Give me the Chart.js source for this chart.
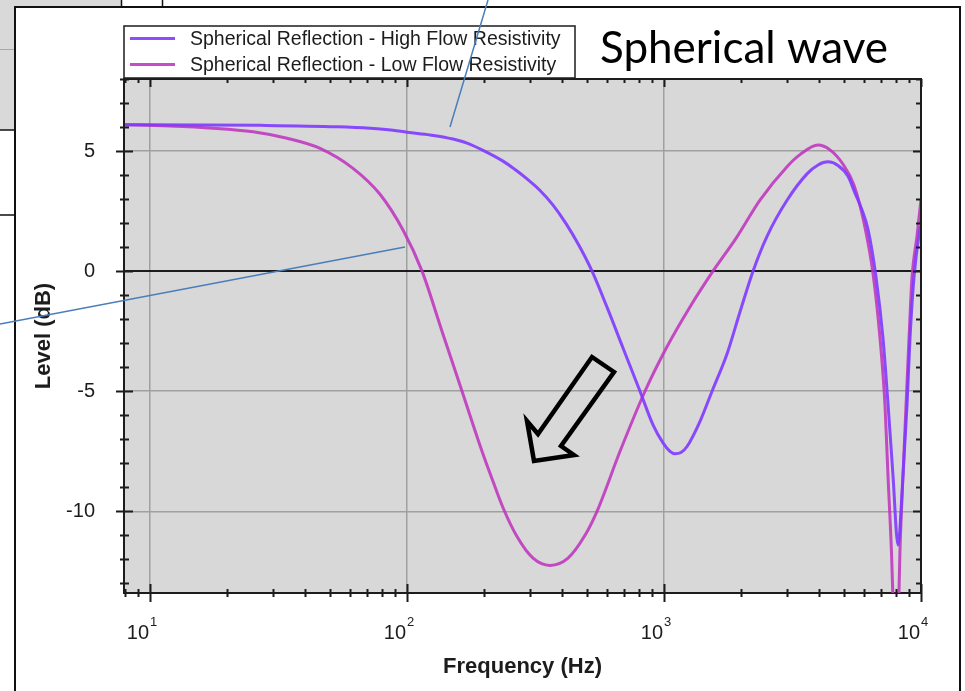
<!DOCTYPE html>
<html>
<head>
<meta charset="utf-8">
<script src="https://cdn.jsdelivr.net/npm/chart.js@4.4.1/dist/chart.umd.min.js"></script>
<style>
  html, body { margin: 0; padding: 0; background: #fff; overflow: hidden; }
  canvas { display: block; }
</style>
</head>
<body>
<canvas id="c" width="965" height="691"></canvas>
<script>
// Reflection level of a spherical wave over ground, two flow resistivities
const freqHigh = [8, 15.65, 26.8, 53.4, 71.8, 88.2, 100, 122.9, 151, 171.2, 197.6, 236.4, 263.2, 293.1, 329.3,
  370, 415.7, 467, 524.8, 600.1, 692.6, 806.5, 906.2, 991.1, 1055, 1103, 1164, 1229, 1381, 1538, 1758, 1975,
  2220, 2517, 3011, 3601, 3975, 4347, 4753, 5200, 5536, 5894, 6221, 6684, 7115, 7438, 7780, 8138, 8511, 8820,
  9061, 9393, 9822, 10000];
const levelHigh = [6.1, 6.09, 6.07, 6.01, 5.95, 5.87, 5.78, 5.67, 5.5, 5.33, 5.03, 4.58, 4.23, 3.84, 3.36,
  2.75, 1.98, 1.07, 0, -1.5, -3.2, -5.0, -6.4, -7.15, -7.5, -7.6, -7.55, -7.3, -6.25, -5.0, -3.45, -1.7,
  0, 1.45, 2.95, 4.05, 4.42, 4.55, 4.4, 3.95, 3.25, 2.55, 1.74, -0.25, -2.8, -5.5, -8.5, -11.4, -8.5, -5.6,
  -2.8, -0.25, 1.5, 1.9];

const freqLow = [8, 11.23, 17.59, 25.17, 34.14, 45.86, 61.64, 78.51, 96.47, 114.4, 136.8, 163.7, 195.8, 216,
  236.4, 267.9, 309.3, 360.1, 423.2, 492.7, 548.6, 674.4, 843.4, 1027, 1262, 1551, 1923, 2363, 3011, 3382,
  3975, 4424, 4973, 5487, 6001, 6506, 6927, 7244, 7438, 7676, 7852, 7993, 8138, 8285, 8511, 8744, 8982,
  9226, 9647, 10000];
const levelLow = [6.1, 6.05, 5.95, 5.8, 5.53, 5.11, 4.28, 3.2, 1.71, 0, -2.5, -5, -7.5, -8.75,
  -9.85, -11.05, -11.95, -12.25, -11.95, -11, -10, -7.5, -5, -3.15, -1.49, 0, 1.43, 2.96, 4.35, 4.85,
  5.25, 5.05, 4.45, 3.58, 2.02, -0.1, -2.8, -5.6, -8.5, -11.7, -15, -17, -15, -11.6, -8.5, -5.6, -2.8,
  -0.25, 1.46, 3.0];

const seriesNames = ['Spherical Reflection - High Flow Resistivity', 'Spherical Reflection - Low Flow Resistivity'];
const seriesColors = ['rgba(126, 58, 255, 0.9)', 'rgba(190, 52, 190, 0.88)'];

const xTickValues = [10, 100, 1000, 10000];
const xTickExponents = ['1', '2', '3', '4'];
const yTickValues = [-10, -5, 0, 5];
const chartTitle = 'Spherical wave';

const X_MIN = 7.92, X_MAX = 10000, Y_MIN = -13.4, Y_MAX = 8;
const FONT = '"Liberation Sans", Arial, sans-serif';
const INK = '#1c1c1c';

// minor tick positions: 2..9 within each decade
const xMinorTicks = [];
[1, 10, 100, 1000].forEach(d => { for (let m = 2; m <= 9; m++) { const v = m * d; if (v >= X_MIN && v < X_MAX) xMinorTicks.push(v); } });
const yMinorTicks = [];
for (let v = Math.ceil(Y_MIN); v <= Y_MAX; v++) { if (yTickValues.indexOf(v) < 0) yMinorTicks.push(v); }

const toPoints = (xs, ys) => xs.map((x, i) => ({ x: x, y: ys[i] }));

// slide frame, left-hand panel fragments, plot background
const backdrop = {
  id: 'backdrop',
  beforeDraw(chart) {
    const ctx = chart.ctx;
    const a = chart.chartArea;
    ctx.save();
    ctx.fillStyle = '#fff';
    ctx.fillRect(0, 0, chart.width, chart.height);
    ctx.fillStyle = '#d9d9d9';
    ctx.fillRect(0, 0, 121, 7);
    ctx.fillRect(0, 0, 15, 130);
    ctx.strokeStyle = '#a8a8a8'; ctx.lineWidth = 1;
    ctx.beginPath(); ctx.moveTo(0, 49.5); ctx.lineTo(15, 49.5); ctx.stroke();
    ctx.strokeStyle = '#111'; ctx.lineWidth = 1.5;
    ctx.beginPath();
    ctx.moveTo(0, 130); ctx.lineTo(15, 130);
    ctx.moveTo(0, 215); ctx.lineTo(15, 215);
    ctx.moveTo(121.5, 0); ctx.lineTo(121.5, 7);
    ctx.moveTo(162.5, 0); ctx.lineTo(162.5, 7);
    ctx.stroke();
    ctx.lineWidth = 2;
    ctx.strokeRect(15, 7, 945, 700);
    ctx.fillStyle = '#d8d8d8';
    ctx.fillRect(a.left, a.top, a.right - a.left, a.bottom - a.top);
    ctx.restore();
  }
};

const decorations = {
  id: 'decorations',
  afterDraw(chart) {
    const ctx = chart.ctx;
    const a = chart.chartArea;
    const xs = chart.scales.x, ys = chart.scales.y;
    ctx.save();

    // top and right frame of the plot
    ctx.strokeStyle = INK; ctx.lineWidth = 2;
    ctx.beginPath();
    ctx.moveTo(a.left, a.top); ctx.lineTo(a.right, a.top); ctx.lineTo(a.right, a.bottom);
    ctx.stroke();

    // tick marks on all four sides
    ctx.beginPath();
    xMinorTicks.forEach(v => {
      const p = Math.round(xs.getPixelForValue(v)) + 0.5;
      ctx.moveTo(p, a.bottom - 4); ctx.lineTo(p, a.bottom + 4);
      ctx.moveTo(p, a.top); ctx.lineTo(p, a.top + 4);
    });
    xTickValues.forEach(v => {
      const p = Math.round(xs.getPixelForValue(v)) + 0.5;
      ctx.moveTo(p, a.bottom - 9); ctx.lineTo(p, a.bottom + 9);
      ctx.moveTo(p, a.top); ctx.lineTo(p, a.top + 8);
    });
    yMinorTicks.forEach(v => {
      const p = Math.round(ys.getPixelForValue(v)) + 0.5;
      ctx.moveTo(a.left - 4, p); ctx.lineTo(a.left + 5, p);
      ctx.moveTo(a.right - 5, p); ctx.lineTo(a.right, p);
    });
    yTickValues.forEach(v => {
      const p = Math.round(ys.getPixelForValue(v)) + 0.5;
      ctx.moveTo(a.left - 8, p); ctx.lineTo(a.left + 9, p);
      ctx.moveTo(a.right - 8, p); ctx.lineTo(a.right, p);
    });
    ctx.stroke();

    // decade labels with superscript exponents
    ctx.fillStyle = INK;
    ctx.textBaseline = 'alphabetic';
    xTickValues.forEach((v, i) => {
      const p = xs.getPixelForValue(v);
      ctx.font = '20px ' + FONT;
      ctx.textAlign = 'right';
      ctx.fillText('10', p - 1, 639);
      ctx.font = '13px ' + FONT;
      ctx.textAlign = 'left';
      ctx.fillText(xTickExponents[i], p, 626);
    });

    // legend box
    const lx = 124, ly = 26, lw = 451, lh = 52;
    ctx.fillStyle = '#fff';
    ctx.fillRect(lx, ly, lw, lh);
    ctx.strokeStyle = INK; ctx.lineWidth = 1.5;
    ctx.strokeRect(lx, ly, lw, lh);
    chart.data.datasets.forEach((ds, i) => {
      const cy = ly + 12.5 + i * 26;
      ctx.strokeStyle = ds.borderColor; ctx.lineWidth = 3;
      ctx.beginPath(); ctx.moveTo(lx + 6, cy); ctx.lineTo(lx + 51, cy); ctx.stroke();
      ctx.fillStyle = INK;
      ctx.font = '19.5px ' + FONT;
      ctx.textAlign = 'left'; ctx.textBaseline = 'middle';
      ctx.fillText(ds.label, lx + 66, cy + 1);
    });

    // slide heading
    ctx.font = '40px Lato, "Open Sans", sans-serif';
    const w40 = ctx.measureText(chartTitle).width;
    const size = 40 * 288 / w40;
    ctx.font = size.toFixed(1) + 'px Lato, "Open Sans", sans-serif';
    ctx.fillStyle = '#000';
    ctx.textAlign = 'left'; ctx.textBaseline = 'alphabetic';
    ctx.fillText(chartTitle, 600, 63);

    // callout lines
    ctx.strokeStyle = '#4a7ebb'; ctx.lineWidth = 1.5;
    ctx.beginPath();
    ctx.moveTo(488, 0); ctx.lineTo(450, 127);
    ctx.moveTo(405, 247); ctx.lineTo(0, 324);
    ctx.stroke();

    // block arrow
    ctx.strokeStyle = '#000'; ctx.lineWidth = 4.5; ctx.lineJoin = 'miter';
    ctx.beginPath();
    ctx.moveTo(592, 357); ctx.lineTo(614, 372); ctx.lineTo(561, 446); ctx.lineTo(574, 455);
    ctx.lineTo(534, 461); ctx.lineTo(527, 421); ctx.lineTo(538, 434);
    ctx.closePath();
    ctx.stroke();

    ctx.restore();
  }
};

new Chart(document.getElementById('c'), {
  type: 'line',
  data: {
    datasets: [
      { label: seriesNames[0], data: toPoints(freqHigh, levelHigh), borderColor: seriesColors[0], borderWidth: 3,
        pointRadius: 0, cubicInterpolationMode: 'monotone', fill: false },
      { label: seriesNames[1], data: toPoints(freqLow, levelLow), borderColor: seriesColors[1], borderWidth: 3,
        pointRadius: 0, cubicInterpolationMode: 'monotone', fill: false }
    ]
  },
  options: {
    responsive: false,
    animation: false,
    events: [],
    layout: { padding: { left: 0, top: 79, right: 44, bottom: 0 } },
    plugins: { legend: { display: false }, tooltip: { enabled: false }, title: { display: false } },
    scales: {
      x: {
        type: 'logarithmic', min: X_MIN, max: X_MAX,
        afterBuildTicks: s => { s.ticks = xTickValues.map(v => ({ value: v })); },
        afterFit: s => { s.height = 98; },
        ticks: { display: false },
        grid: { drawTicks: false, color: '#a0a0a0', lineWidth: 1.5 },
        border: { color: INK, width: 2 },
        title: { display: true, text: 'Frequency (Hz)', color: INK,
          font: { family: FONT, size: 22, weight: 'bold' }, padding: { top: 0, bottom: 11 } }
      },
      y: {
        type: 'linear', min: Y_MIN, max: Y_MAX,
        afterBuildTicks: s => { s.ticks = yTickValues.map(v => ({ value: v })); },
        afterFit: s => { s.width = 124; },
        ticks: { color: INK, font: { family: FONT, size: 20 }, padding: 29 },
        grid: { drawTicks: false,
          color: c => (c.tick && c.tick.value === 0) ? INK : '#a0a0a0',
          lineWidth: c => (c.tick && c.tick.value === 0) ? 2 : 1.5 },
        border: { color: INK, width: 2 },
        title: { display: true, text: 'Level (dB)', color: INK,
          font: { family: FONT, size: 22, weight: 'bold' }, padding: { top: 31, bottom: 0 } }
      }
    }
  },
  plugins: [backdrop, decorations]
});
</script>
</body>
</html>
